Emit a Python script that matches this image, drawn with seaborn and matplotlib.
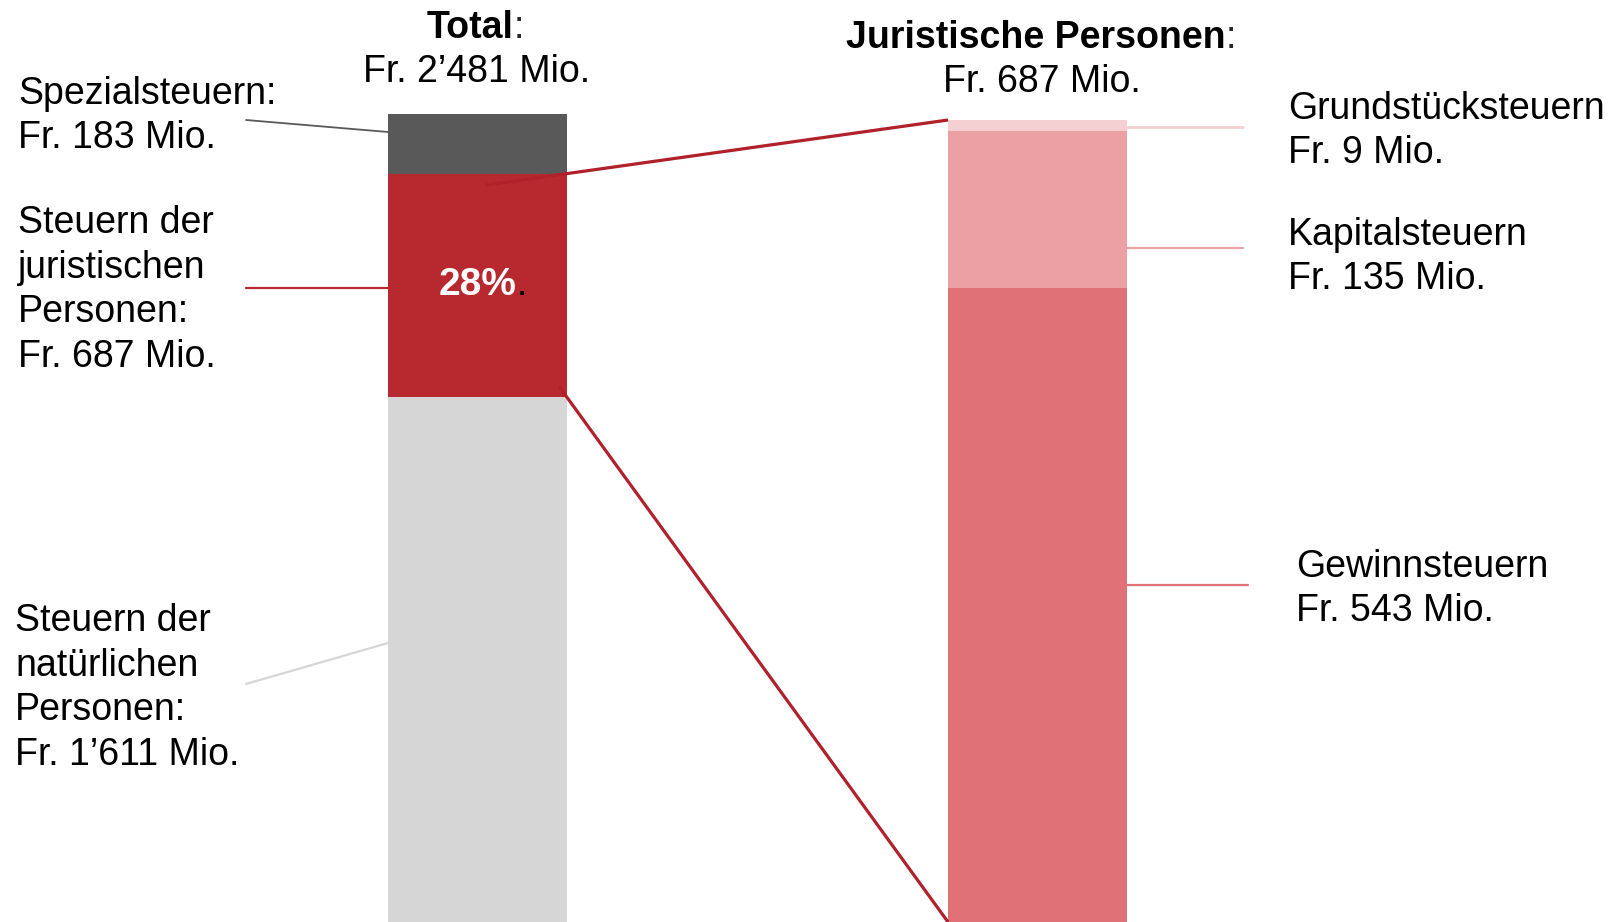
import matplotlib
matplotlib.use('Agg')
import matplotlib.pyplot as plt
import seaborn as sns
import numpy as np
from matplotlib.lines import Line2D

# data
left_labels = ['Steuern der natürlichen Personen', 'Steuern der juristischen Personen', 'Spezialsteuern']
left_values = [1611, 687, 183]
left_colors = ['#D6D6D6', '#B8282F', '#595959']

right_labels = ['Gewinnsteuern', 'Kapitalsteuern', 'Grundstücksteuern']
right_values = [543, 135, 9]
right_colors = ['#E07177', '#EBA0A4', '#F4D0D3']

total_left = sum(left_values)
total_right = sum(right_values)
share = round(100 * left_values[1] / total_left)

sns.set_theme(style='white')
plt.rcParams['font.family'] = ['Liberation Sans', 'DejaVu Sans']

W, H = 1618, 922
fig = plt.figure(figsize=(W / 100, H / 100), dpi=100)


def fx(px):
    return px / W


def fy(py):
    return 1 - py / H


ax1 = fig.add_axes([fx(388), 0, (567 - 388) / W, (H - 114) / H])
ax2 = fig.add_axes([fx(948), 0, (1127 - 948) / W, (H - 120) / H])


def stacked_bar(ax, name, values, colors, total):
    tops = np.cumsum(values)
    # tallest first, smaller ones drawn on top
    for top, c in sorted(zip(tops, colors), key=lambda t: -t[0]):
        sns.barplot(x=[name], y=[top], color=c, saturation=1, width=1, linewidth=0, ax=ax)
    ax.set_xlim(-0.5, 0.5)
    ax.set_ylim(0, total)
    ax.axis('off')


stacked_bar(ax1, 'Total', left_values, left_colors, total_left)
stacked_bar(ax2, 'Juristische Personen', right_values, right_colors, total_right)

# connectors from the juristic segment to the detail bar
inv = fig.transFigure.inverted()


def to_fig(ax, x, y):
    return inv.transform(ax.transData.transform((x, y)))


jur_bottom = left_values[0]
jur_top = left_values[0] + left_values[1]
for (ya, yb, ext) in [(jur_top, total_right, 0.215), (jur_bottom, 0, 0.02)]:
    p0 = to_fig(ax1, 0.5, ya)
    p1 = to_fig(ax2, -0.5, yb)
    start = p0 - ext * (p1 - p0)
    fig.add_artist(Line2D([start[0], p1[0]], [start[1], p1[1]], transform=fig.transFigure,
                          color='#B0212A', lw=2.3, solid_capstyle='butt', zorder=5))

# leader lines (pixel positions)
leaders = [
    ((246, 120), (388, 132), '#595959', 1.3),
    ((246, 288), (388, 288), '#B8282F', 1.6),
    ((246, 684), (388, 643), '#D6D6D6', 1.6),
    ((1127, 127), (1243, 127), '#F4D0D3', 2.0),
    ((1127, 248), (1243, 248), '#EBA0A4', 1.6),
    ((1127, 585), (1248, 585), '#E07177', 1.6),
]
for (x0, y0), (x1, y1), c, lw in leaders:
    fig.add_artist(Line2D([fx(x0), fx(x1)], [fy(y0), fy(y1)], transform=fig.transFigure, color=c, lw=lw))

fs = 27
txt = dict(fontsize=fs, color='black', linespacing=1.3)


def fmt(v):
    s = f'{v:,}'.replace(',', '\u2019')
    return f'Fr. {s} Mio.'


# titles
t = fig.text(fx(470), fy(28), 'Total', ha='center', va='center', fontweight='bold', **txt)
plt.annotate(':', xy=(1, 0), xycoords=t, ha='left', va='bottom', fontsize=fs, annotation_clip=False)
fig.text(fx(477), fy(72), fmt(total_left), ha='center', va='center', **txt)

t2 = fig.text(fx(1036), fy(38), 'Juristische Personen', ha='center', va='center', fontweight='bold', **txt)
plt.annotate(':', xy=(1, 0), xycoords=t2, ha='left', va='bottom', fontsize=fs, annotation_clip=False)
fig.text(fx(1042), fy(82), fmt(total_right), ha='center', va='center', **txt)

# left labels
fig.text(fx(18), fy(116), 'Spezialsteuern:\n' + fmt(left_values[2]), ha='left', va='center', **txt)
fig.text(fx(18), fy(290), 'Steuern der\njuristischen\nPersonen:\n' + fmt(left_values[1]), ha='left', va='center', **txt)
fig.text(fx(15), fy(688), 'Steuern der\nnatürlichen\nPersonen:\n' + fmt(left_values[0]), ha='left', va='center', **txt)

# right labels
fig.text(fx(1288), fy(131), right_labels[2] + '\n' + fmt(right_values[2]), ha='left', va='center', **txt)
fig.text(fx(1288), fy(257), right_labels[1] + '\n' + fmt(right_values[1]), ha='left', va='center', **txt)
fig.text(fx(1296), fy(589), right_labels[0] + '\n' + fmt(right_values[0]), ha='left', va='center', **txt)

# share label
p = ax1.text(0, left_values[0] + left_values[1] / 2, f'{share}%', ha='center', va='center',
             color='white', fontweight='bold', fontsize=fs + 1)
ax1.annotate('.', xy=(1, 0), xycoords=p, ha='left', va='bottom', fontsize=fs, color='black',
             annotation_clip=False)

fig.savefig('out.png', dpi=100)
